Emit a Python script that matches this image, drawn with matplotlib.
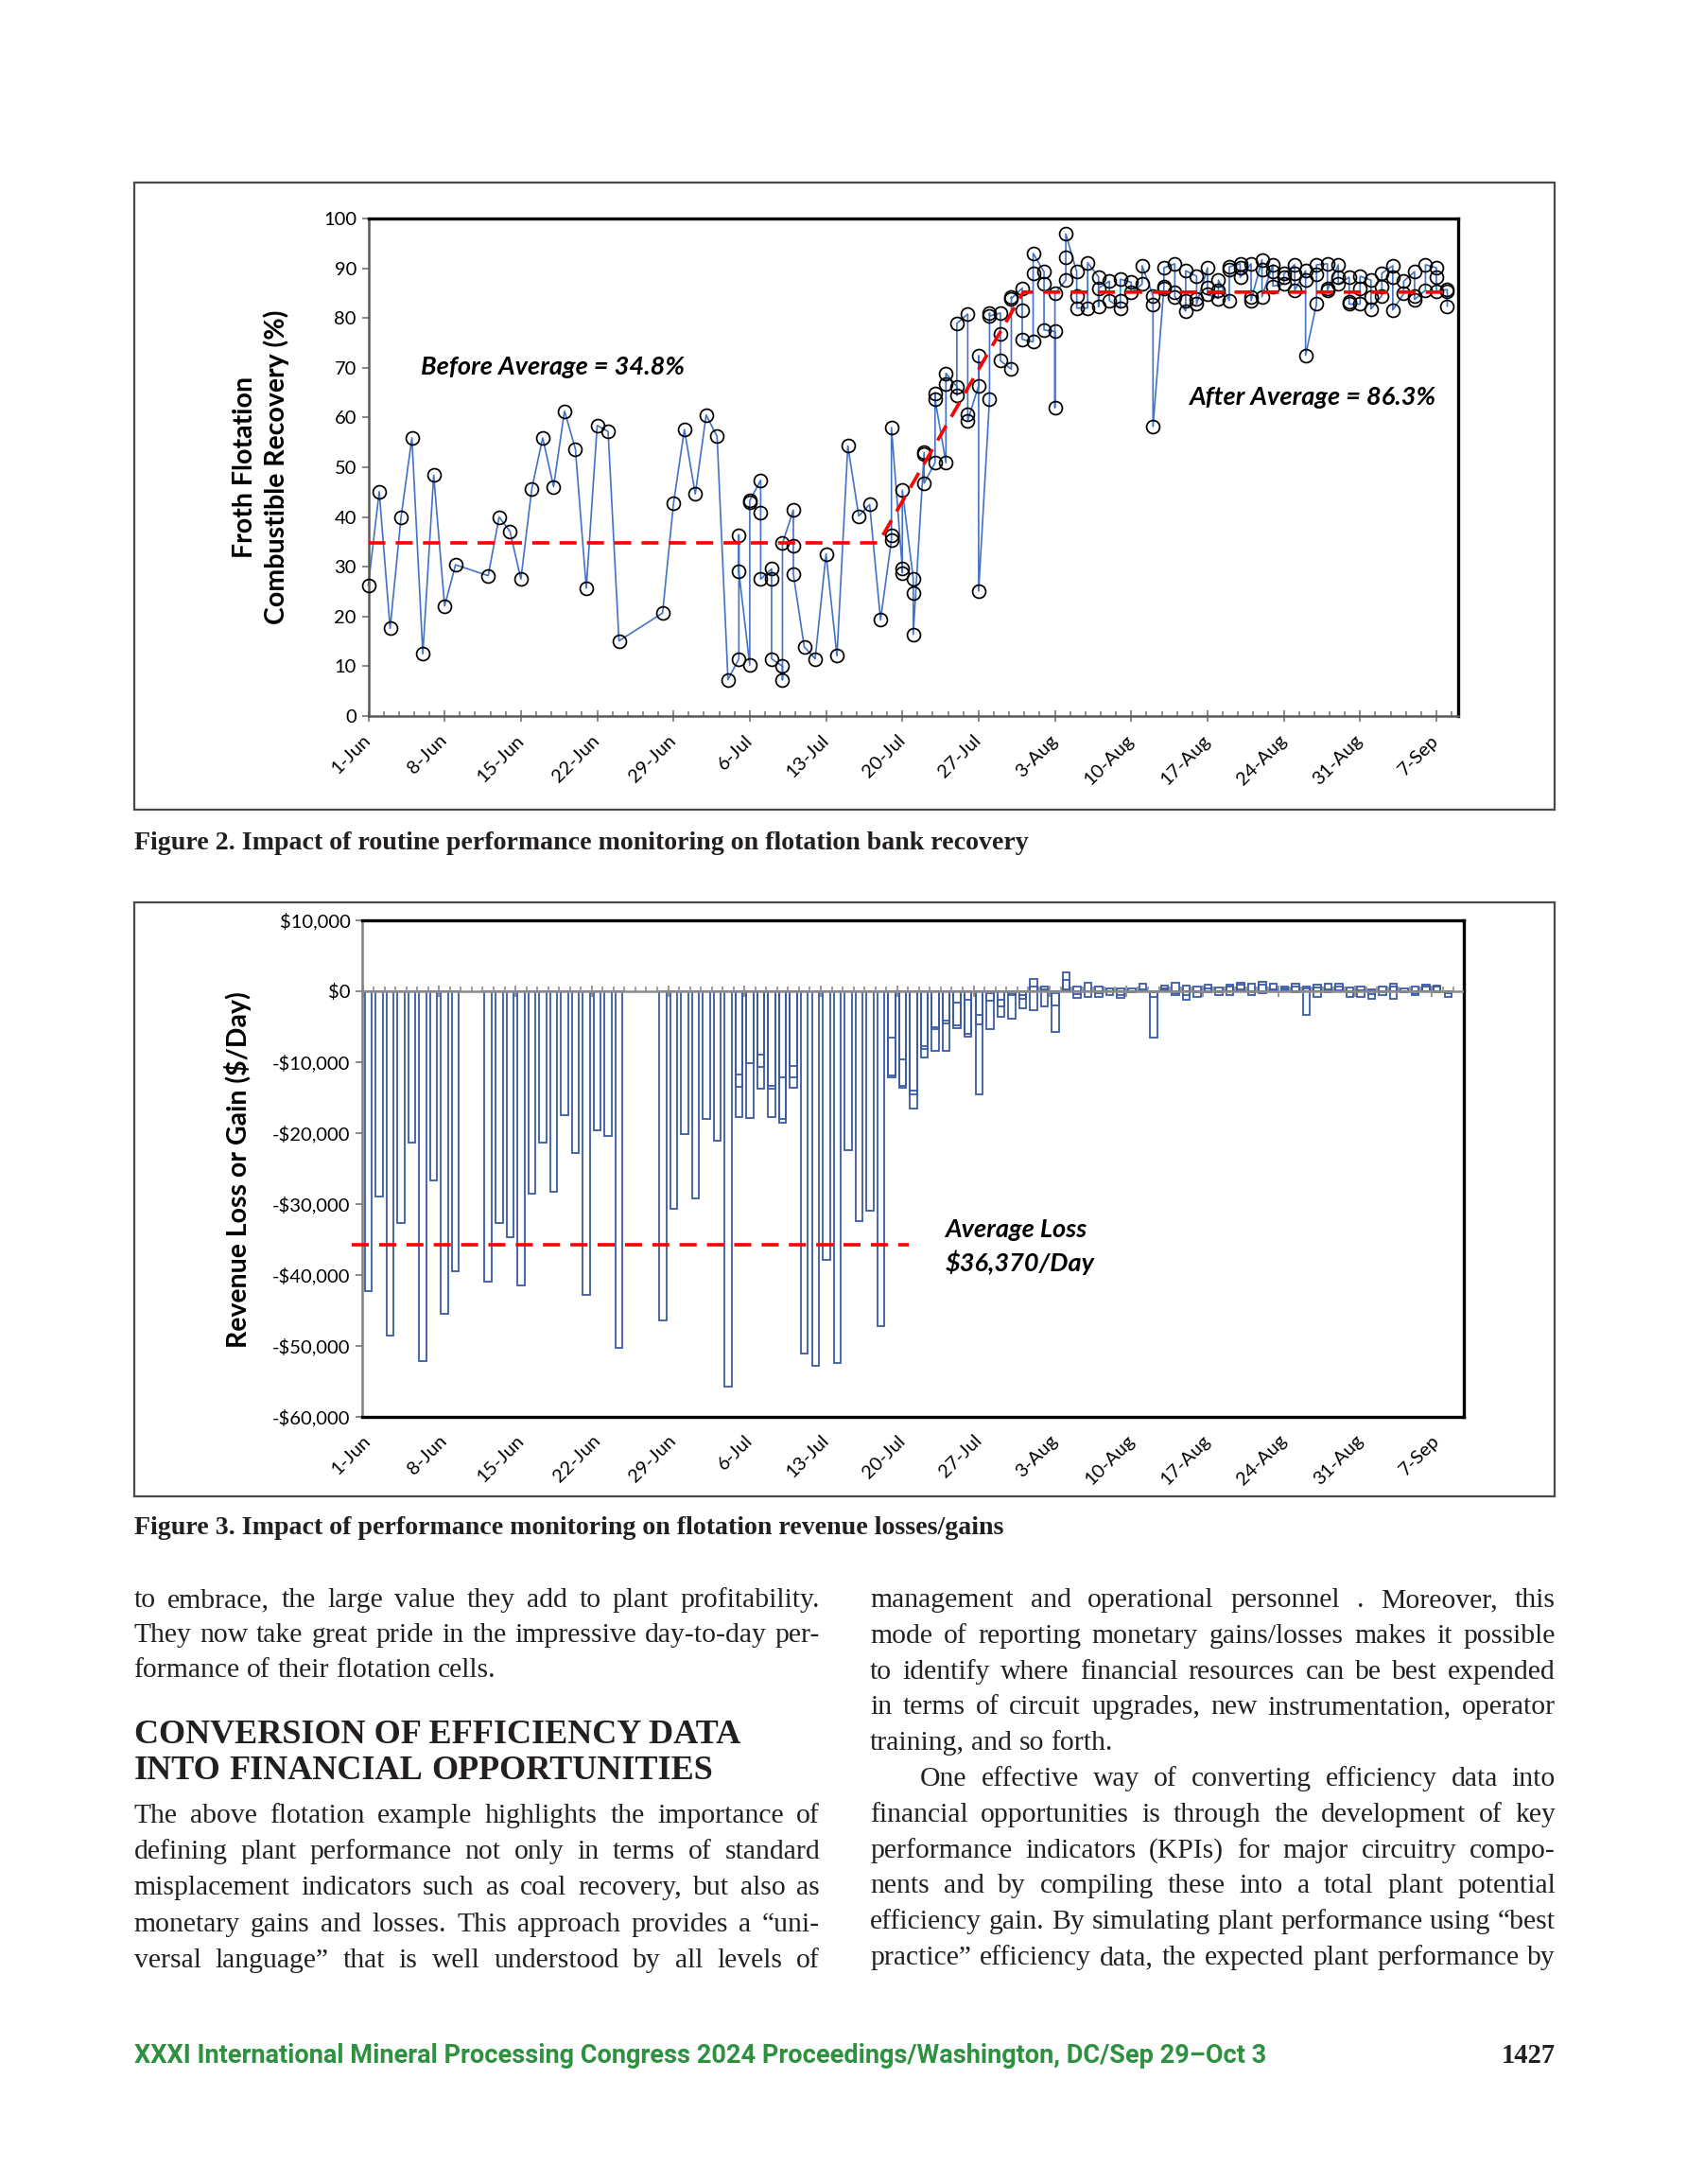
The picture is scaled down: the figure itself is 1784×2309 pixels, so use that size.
import numpy as np
import matplotlib
matplotlib.use("Agg")
import matplotlib.pyplot as plt
from matplotlib.patches import Rectangle
from matplotlib.ticker import FuncFormatter

# ---- data: froth flotation recovery (%), day offset from 1-Jun ----
rec_days = [0, 1, 2, 3, 4, 5, 6, 7, 8, 11, 12, 13, 14, 15, 16, 17, 18, 19, 20, 21,
            22, 23, 27, 28, 29, 30, 31, 32, 33, 34, 35, 36, 37, 38, 39, 40, 41, 42,
            43, 44, 45, 46, 47, 48, 49, 50, 51, 52, 53, 54, 55, 56, 57, 58, 59, 60,
            61, 62, 63, 64, 65, 66, 67, 68, 69, 70, 71, 72, 73, 74, 75, 76, 77, 78,
            79, 80, 81, 82, 83, 84, 85, 86, 87, 88, 89, 90, 91, 92, 93, 94, 95, 96,
            97, 98, 99]
rec_vals = [[26.3], [45.1], [17.6], [39.9], [55.9], [12.5], [48.4], [22.1], [30.4],
            [28.2], [40.0], [37.1], [27.5], [45.7], [55.9], [46.1], [61.3], [53.7],
            [25.7], [58.4], [57.2], [15.1], [20.7], [42.7], [57.6], [44.6], [60.5],
            [56.2], [7.3],
            [11.5, 36.4, 29.0], [10.2, 43.0, 43.3], [47.4, 40.8, 27.5],
            [29.6, 27.6, 11.5], [10.0, 7.3, 34.7], [41.4, 34.2, 28.5],
            [13.9], [11.5], [32.6], [12.1], [54.3], [40.2], [42.5], [19.3],
            [35.4, 36.4, 58.0], [29.6, 28.8, 45.4], [27.6, 24.7, 16.4],
            [52.7, 53.0, 46.8], [50.9, 64.9, 63.7], [50.9, 66.7, 68.9],
            [66.2, 64.5, 78.9], [80.8, 60.6, 59.4], [66.4, 72.4, 25.1],
            [63.7, 81.0, 80.4], [81.0, 76.9, 71.4], [69.7, 84.2, 83.9],
            [86.0, 81.6, 75.7], [75.2, 89.0, 93.0], [89.3, 86.8, 77.6],
            [77.3, 62.0, 84.9], [87.6, 92.3, 96.9], [89.3, 84.5, 82.0],
            [82.0, 91.1], [88.3, 82.3, 86.0], [87.4, 83.5], [82.0, 83.5, 87.8],
            [87.2, 85.1], [86.8, 90.5], [84.5, 82.7, 58.2], [86.0, 86.4, 90.1],
            [90.9, 85.1, 84.3], [81.4, 83.5, 89.5], [88.4, 83.9, 82.8],
            [90.1, 86.2, 84.7], [83.9, 85.6, 87.6], [83.5, 89.7, 90.3],
            [90.9, 90.1, 88.2], [90.9, 84.3, 83.5], [91.7, 89.7, 84.3],
            [90.7, 89.3, 86.4], [86.8, 88.2, 88.9], [90.7, 88.9, 85.6],
            [89.5, 87.6, 72.5], [82.8, 88.7, 90.7], [90.9, 86.0, 85.6],
            [90.7, 88.2, 86.8], [88.2, 83.3, 82.8], [82.8, 86.0, 88.4],
            [87.6, 84.3, 81.8], [84.5, 86.4, 89.0], [90.5, 88.2, 81.6],
            [84.9, 87.4], [89.3, 84.5, 83.7], [85.6, 90.7], [90.1, 88.2, 85.4],
            [85.7, 85.4, 82.4]]

# average lines (before / transition / after)
rec_avg_x = [0, 46.8, 60.1, 99.3]
rec_avg_y = [34.8, 34.8, 85.2, 85.2]

# ---- data: revenue loss or gain ($/day) ----
loss_days = rec_days
loss_vals = [[-42300], [-29000], [-48500], [-32700], [-21400], [-52100], [-26700],
             [-45400], [-39500], [-40900], [-32600], [-34600], [-41500], [-28600],
             [-21400], [-28300], [-17500], [-22800], [-42800], [-19600], [-20400],
             [-50300], [-46400], [-30700], [-20200], [-29200], [-18000], [-21100],
             [-55700],
             [-11700, -13500, -17700], [-10200, -17900], [-9000, -10700, -13800],
             [-13300, -13700, -17700], [-12100, -18000, -18600],
             [-10500, -12200, -13600],
             [-51100], [-52800], [-37900], [-52400], [-22400], [-32400], [-30900],
             [-47200],
             [-6600, -11900, -12100], [-9600, -13400, -13600],
             [-14000, -14500, -16600], [-7800, -8100, -9300], [-5100, -5400, -8400],
             [-4100, -4500, -8400], [-1600, -4800, -5200], [-1200, -6000, -6400],
             [-3300, -4700, -14500], [-300, -1400, -5300], [-1200, -2200, -3600],
             [-300, -600, -3900], [-500, -1100, -2400], [1700, 600, -2700],
             [700, 300, -2100], [-300, -2000, -5700], [2600, 1600, 200],
             [700, -400, -1000], [1200, -800], [600, -300, -800], [400, -500],
             [400, -500, -1000], [400, -200], [1000, 200], [-200, -800, -6600],
             [800, 200, 400], [1200, -300, -500], [800, -500, -1200],
             [600, -200, -800], [900, 400, -200], [500, -200, -500],
             [900, 600, -600], [1200, 900, 200], [1100, -200, -600],
             [1300, 900, -300], [1100, 100, 300], [600, 200, 400],
             [1100, 600, -200], [700, 400, -3300], [900, 500, -800],
             [1100, -200, 300], [1100, 700, 100], [500, -200, -800],
             [600, 100, -800], [200, -400, -1100], [700, -200, -500],
             [1000, 600, -1100], [400, -200], [700, -300, -600], [900, 600],
             [800, 600, -200], [-200, -800, -300]]

loss_avg_x = [-1.5, 49.6]
loss_avg_y = [-35700, -35700]

tick_days = [0, 7, 14, 21, 28, 35, 42, 49, 56, 63, 70, 77, 84, 91, 98]
tick_labels = ["1-Jun", "8-Jun", "15-Jun", "22-Jun", "29-Jun", "6-Jul", "13-Jul",
               "20-Jul", "27-Jul", "3-Aug", "10-Aug", "17-Aug", "24-Aug", "31-Aug",
               "7-Sep"]

W, H = 1784, 2309
CHART_FONT = "Lato"
SERIF = "Liberation Serif"
GRAY = "#7f7f7f"
TICK_FS = 14.5
NOTE_FS = 19.5
LABEL_FS = 20.5

fig = plt.figure(figsize=(W / 100, H / 100), dpi=100)
renderer = fig.canvas.get_renderer()


def box(x0, y0, x1, y1):
    return [x0 / W, 1 - y1 / H, (x1 - x0) / W, (y1 - y0) / H]


def frame(x0, y0, x1, y1):
    fig.add_artist(Rectangle((x0 / W, 1 - y1 / H), (x1 - x0) / W, (y1 - y0) / H,
                             transform=fig.transFigure, fill=False,
                             ec="#4a4a4a", lw=1.6))


def flat(days, vals):
    xs, ys = [], []
    for d, v in zip(days, vals):
        for item in v:
            xs.append(d)
            ys.append(item)
    return xs, ys


# ================= Figure 2: recovery =================
frame(141.5, 193, 1643.5, 856)
ax1 = fig.add_axes(box(389.5, 231, 1542, 757))
rx, ry = flat(rec_days, rec_vals)
ax1.plot(rx, ry, color="#4472C4", lw=1.2, zorder=2, clip_on=False)
ax1.plot(rx, ry, "o", ms=10, mfc="none", mec="black", mew=1.25, zorder=3,
         clip_on=False)
ax1.plot(rec_avg_x, rec_avg_y, color="#FF0000", lw=2.6, dashes=(5, 3), zorder=4)
ax1.set_xlim(0, 100)
ax1.set_ylim(0, 100)
ax1.set_yticks(range(0, 101, 10))
ax1.set_xticks(tick_days)
ax1.set_xticklabels(tick_labels, rotation=45, ha="right", va="center",
                    rotation_mode="anchor", fontsize=TICK_FS, family=CHART_FONT)
ax1.set_xticks(np.arange(0, 100, 1.4), minor=True)
ax1.tick_params(axis="x", which="major", direction="inout", length=9, width=1.3,
                color=GRAY, pad=12)
ax1.tick_params(axis="x", which="minor", direction="in", length=3.5, width=1.2,
                color=GRAY)
ax1.tick_params(axis="y", direction="out", length=5, width=1.3, color=GRAY,
                labelsize=TICK_FS, pad=4)
for lab in ax1.get_yticklabels():
    lab.set_family(CHART_FONT)
for s in ["top", "right"]:
    ax1.spines[s].set_color("black")
    ax1.spines[s].set_linewidth(2.4)
for s in ["left", "bottom"]:
    ax1.spines[s].set_color("#5a5a5a")
    ax1.spines[s].set_linewidth(1.8)

ax1.text(4.8, 70.2, "Before Average = 34.8%", fontsize=NOTE_FS, weight="bold",
         style="italic", family=CHART_FONT, va="center")
ax1.text(75.3, 64.1, "After Average = 86.3%", fontsize=NOTE_FS, weight="bold",
         style="italic", family=CHART_FONT, va="center")
fig.text(276 / W, 1 - 494 / H, "Froth Flotation\nCombustible Recovery (%)",
         rotation=90, ha="center", va="center", fontsize=LABEL_FS, weight="bold",
         family=CHART_FONT, linespacing=1.3)

# ================= Figure 3: revenue =================
frame(141.5, 954, 1643.5, 1582)
ax2 = fig.add_axes(box(383, 973, 1548, 1498))
lx, ly = flat(loss_days, loss_vals)
ax2.bar(lx, ly, width=0.65, color="none", edgecolor="#3A5BA6", lw=1.3, zorder=2)
ax2.plot(loss_avg_x, loss_avg_y, color="#FF0000", lw=2.6, dashes=(5, 3),
         zorder=4, clip_on=False)
ax2.set_xlim(-0.55, 100.45)
ax2.set_ylim(-60000, 10000)
ax2.set_yticks(range(-60000, 10001, 10000))


def money(v, pos):
    return ("-" if v < 0 else "") + "${:,.0f}".format(abs(v))


ax2.yaxis.set_major_formatter(FuncFormatter(money))
ax2.tick_params(axis="y", direction="out", length=5, width=1.3, color=GRAY,
                labelsize=TICK_FS, pad=4)
for lab in ax2.get_yticklabels():
    lab.set_family(CHART_FONT)
ax2.set_xticks(tick_days)
ax2.set_xticklabels(tick_labels, rotation=45, ha="right", va="center",
                    rotation_mode="anchor", fontsize=TICK_FS, family=CHART_FONT)
ax2.tick_params(axis="x", which="major", length=0, pad=16)
for s in ["top", "right", "bottom"]:
    ax2.spines[s].set_color("black")
    ax2.spines[s].set_linewidth(2.4)
ax2.spines["left"].set_color(GRAY)
ax2.spines["left"].set_linewidth(1.8)

# zero line axis with day ticks
ax2.axhline(0, color="#8c8c8c", lw=1.8, zorder=3)
sec = ax2.secondary_xaxis(6 / 7)
sec.set_xticks(np.arange(-0.5, 100, 7))
sec.set_xticks(np.arange(-0.5, 100.4, 1.0), minor=True)
sec.tick_params(which="major", direction="inout", length=9, width=1.3,
                color="#8c8c8c", labeltop=False, labelbottom=False)
sec.tick_params(which="minor", direction="out", length=3.5, width=1.2,
                color="#8c8c8c")
for s in sec.spines.values():
    s.set_visible(False)

ax2.text(52.9, -33600, "Average Loss", fontsize=NOTE_FS, weight="bold",
         style="italic", family=CHART_FONT, va="center")
ax2.text(52.9, -38200, "$36,370/Day", fontsize=NOTE_FS, weight="bold",
         style="italic", family=CHART_FONT, va="center")
fig.text(252 / W, 1 - 1237 / H, "Revenue Loss or Gain ($/Day)",
         rotation=90, ha="center", va="center", fontsize=LABEL_FS, weight="bold",
         family=CHART_FONT)


# ================= page text =================
def width_of(t):
    return t.get_window_extent(renderer).width


def fit_text(x0, x1, y, text, family=SERIF, weight="normal", color="#231f20"):
    t = fig.text(x0 / W, 1 - y / H, text, fontsize=20, family=family,
                 weight=weight, color=color, va="baseline")
    size = 20 * (x1 - x0) / width_of(t)
    t.set_fontsize(size)
    return size


def natural_size(x0, x1, text):
    t = fig.text(0, 0, text, fontsize=20, family=SERIF)
    size = 20 * (x1 - x0) / width_of(t)
    t.remove()
    return size


def line(x0, x1, y, text, size, justify=True, weight="normal", indent=0):
    words = text.split(" ")
    objs = [fig.text(0, 1 - y / H, w, fontsize=size, family=SERIF,
                     weight=weight, color="#231f20", va="baseline")
            for w in words]
    widths = [width_of(o) for o in objs]
    space = size * 100 / 72 * 0.25
    if justify and len(words) > 1:
        space = (x1 - x0 - indent - sum(widths)) / (len(words) - 1)
    x = x0 + indent
    for o, w in zip(objs, widths):
        o.set_x(x / W)
        x += w + space


fit_text(141.5, 1085, 898, "Figure 2. Impact of routine performance monitoring on "
         "flotation bank recovery", weight="bold")
fit_text(141.5, 1061, 1622, "Figure 3. Impact of performance monitoring on "
         "flotation revenue losses/gains", weight="bold")

LX0, LX1 = 141.5, 867
RX0, RX1 = 920, 1645

left_top = ["to embrace, the large value they add to plant profitability.",
            "They now take great pride in the impressive day-to-day per-",
            "formance of their flotation cells."]
left_para = ["The above flotation example highlights the importance of",
             "defining plant performance not only in terms of standard",
             "misplacement indicators such as coal recovery, but also as",
             "monetary gains and losses. This approach provides a \u201cuni-",
             "versal language\u201d that is well understood by all levels of"]
right_lines = ["management and operational personnel . Moreover, this",
               "mode of reporting monetary gains/losses makes it possible",
               "to identify where financial resources can be best expended",
               "in terms of circuit upgrades, new instrumentation, operator",
               "training, and so forth.",
               "One effective way of converting efficiency data into",
               "financial opportunities is through the development of key",
               "performance indicators (KPIs) for major circuitry compo-",
               "nents and by compiling these into a total plant potential",
               "efficiency gain. By simulating plant performance using \u201cbest",
               "practice\u201d efficiency data, the expected plant performance by"]

# body size: largest size at which every justified line still fits its column
justified = left_top[:2] + left_para + [s for i, s in enumerate(right_lines)
                                        if i not in (4, 5)]
body = min(natural_size(LX0, LX1, s) for s in justified) * 0.995

for i, s in enumerate(left_top):
    line(LX0, LX1, 1699 + 37 * i, s, body, justify=(i != 2))

head = fit_text(141.5, 781, 1843, "CONVERSION OF EFFICIENCY DATA", weight="bold")
line(LX0, LX1, 1881, "INTO FINANCIAL OPPORTUNITIES", head, justify=False,
     weight="bold")

for i, s in enumerate(left_para):
    line(LX0, LX1, 1927 + 38.2 * i, s, body)

for i, s in enumerate(right_lines):
    line(RX0, RX1, 1699 + 37.8 * i, s, body, justify=(i != 4),
         indent=(53 if i == 5 else 0))

fit_text(141.5, 1334, 2181, "XXXI International Mineral Processing Congress 2024 "
         "Proceedings/Washington, DC/Sep 29\u2013Oct 3", family="Roboto",
         weight="bold", color="#2E9140")
fit_text(1588, 1645, 2181, "1427", weight="bold")

fig.savefig("out.png", dpi=100)
